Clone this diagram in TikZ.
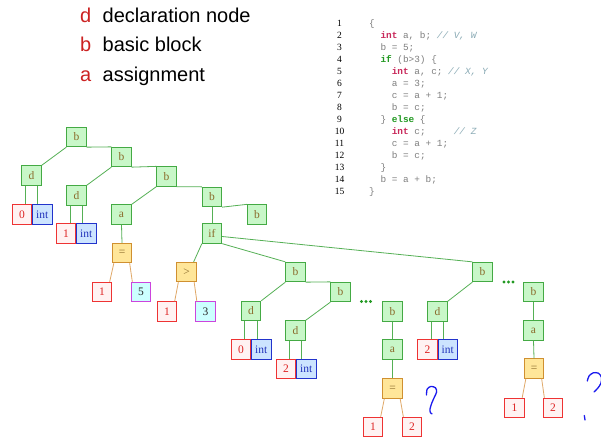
\documentclass[tikz,border=0pt]{standalone}
\usepackage{fontspec}
\setmainfont{Liberation Serif}
\setmonofont{Liberation Mono}
\newfontfamily\legendfont{Liberation Sans}
\usetikzlibrary{calc}

\definecolor{bfill}{HTML}{C8F7C8}
\definecolor{bdraw}{HTML}{44AA44}
\definecolor{btext}{HTML}{8A6A2A}
\definecolor{numfill}{HTML}{FFF2F2}
\definecolor{numdraw}{HTML}{EE3333}
\definecolor{numtext}{HTML}{DD2222}
\definecolor{intfill}{HTML}{CCE4FF}
\definecolor{intdraw}{HTML}{2233CC}
\definecolor{inttext}{HTML}{2233BB}
\definecolor{opfill}{HTML}{FFE699}
\definecolor{opdraw}{HTML}{D09030}
\definecolor{oline}{HTML}{E0A868}
\definecolor{cstfill}{HTML}{CCFFFF}
\definecolor{cstdraw}{HTML}{CC44DD}
\definecolor{gline}{HTML}{55B055}
\definecolor{legred}{HTML}{CC2222}
\definecolor{kwred}{HTML}{C8285A}
\definecolor{kwgreen}{HTML}{229922}
\definecolor{cmtcol}{HTML}{8AAAB5}
\definecolor{codegray}{HTML}{808080}
\definecolor{qblue}{HTML}{1A1AEE}

\newcommand{\kw}[1]{\textbf{\textcolor{kwred}{#1}}}
\newcommand{\kwg}[1]{\textbf{\textcolor{kwgreen}{#1}}}
\newcommand{\cm}[1]{\textit{\textcolor{cmtcol}{#1}}}

\begin{document}
\begin{tikzpicture}[x=1pt,y=-1pt,
  box/.style={rectangle, draw, line width=0.8pt, minimum width=19.5pt, minimum height=19.5pt, inner sep=0pt, font=\fontsize{11.5}{12}\selectfont},
  bnode/.style={box, draw=bdraw, fill=bfill, text=btext},
  numnode/.style={box, draw=numdraw, fill=numfill, text=numtext},
  intnode/.style={box, draw=intdraw, fill=intfill, text=inttext},
  opnode/.style={box, draw=opdraw, fill=opfill, text=btext},
  cstnode/.style={box, draw=cstdraw, fill=cstfill, text=black!85},
  gedge/.style={draw=gline, line width=0.8pt},
  oedge/.style={draw=oline, line width=0.8pt},
  qmark/.style={draw=qblue, line width=1.3pt, line cap=round, line join=round}]
\fill[white] (0,0) rectangle (601,440);
\useasboundingbox (0,0) rectangle (601,440);

% legend
\foreach \k/\desc/\y in {d/declaration node/22, b/basic block/51.5, a/assignment/81}{
  \node[anchor=base west, inner sep=0pt, font=\legendfont\fontsize{20}{22}\selectfont, text=legred] (key\k) at (80,\y) {\k};
  \node[anchor=base west, inner sep=0pt, font=\legendfont\fontsize{20}{22}\selectfont] (desc\k) at (102.5,\y) {\desc};
}

% source code
\foreach \n/\ind/\txt in {1/0/{\{}, 2/2/{\kw{int} a, b; \cm{// V, W}}, 3/2/{b = 5;}, 4/2/{\kwg{if} (b>3) \{},
  5/4/{\kw{int} a, c; \cm{// X, Y}}, 6/4/{a = 3;}, 7/4/{c = a + 1;}, 8/4/{b = c;},
  9/2/{\} \kwg{else} \{}, 10/4/{\kw{int} c;~~~~~\cm{// Z}}, 11/4/{c = a + 1;}, 12/4/{b = c;},
  13/2/{\}}, 14/2/{b = a + b;}, 15/0/{\}}}{
  \node[anchor=base, inner sep=0pt, font=\fontsize{9.5}{10}\selectfont] (ln\n) at (339.5,26.5+12.03*\n-12.03) {\n};
  \node[anchor=base west, inner sep=0pt, text=codegray, font=\ttfamily\fontsize{9.4}{10}\selectfont] (code\n) at (369+5.65*\ind,26.5+12.03*\n-12.03) {\txt};
}

% tree
\draw (76.5,137) node[bnode] (b1) {b};
\draw (121.5,157) node[bnode] (b2) {b};
\draw (166.5,176.5) node[bnode] (b3) {b};
\draw (212,197) node[bnode] (b4) {b};
\draw (257,214.5) node[bnode] (b5) {b};
\draw (31.5,175.5) node[bnode] (d1) {d};
\draw (76.5,195.5) node[bnode] (d2) {d};
\draw (121.5,214.5) node[bnode] (a1) {a};
\draw (212,233.5) node[bnode] (if) {if};
\draw (295.5,272) node[bnode] (bx) {b};
\draw (340.5,292) node[bnode] (by) {b};
\draw (251,311) node[bnode] (d3) {d};
\draw (295.5,330.5) node[bnode] (d4) {d};
\draw (392.5,311.5) node[bnode] (bz) {b};
\draw (392.5,349.5) node[bnode] (a2) {a};
\draw (482.5,272) node[bnode] (bw) {b};
\draw (437.5,311.5) node[bnode] (d5) {d};
\draw (533.5,292) node[bnode] (bv) {b};
\draw (533.5,330.5) node[bnode] (a3) {a};

\draw (122,253) node[opnode] (eq1) {=};
\draw (186.5,272) node[opnode] (gt) {>};
\draw (392.5,388.5) node[opnode] (eq2) {=};
\draw (534,368.5) node[opnode] (eq3) {=};

\draw (22,214.5) node[numnode] (n1) {0};
\draw (66,233.5) node[numnode] (n2) {1};
\draw (102,292) node[numnode] (n3) {1};
\draw (167,311.5) node[numnode] (n4) {1};
\draw (241,349.5) node[numnode] (n5) {0};
\draw (286,369) node[numnode] (n6) {2};
\draw (373,427) node[numnode] (n7) {1};
\draw (412,427) node[numnode] (n8) {2};
\draw (427.5,349.5) node[numnode] (n9) {2};
\draw (514.5,408) node[numnode] (n10) {1};
\draw (553,408) node[numnode] (n11) {2};

\draw (141,292) node[cstnode] (c1) {5};
\draw (205.5,311.5) node[cstnode] (c2) {3};

\foreach \n in {n1,n2,n5,n6,n9}
  \node[intnode, anchor=west] (int\n) at (\n.east) {int};

% edges
\draw[gedge] (b1.south west) -- (d1.north east);
\draw[gedge] (b1.south east) -- (b2.north west);
\draw[gedge] (b2.south west) -- (d2.north east);
\draw[gedge] (b2.south east) -- (b3.north west);
\draw[gedge] (b3.south west) -- (a1.north east);
\draw[gedge] (b3.south east) -- (b4.north west);
\draw[gedge] (b4.south east) -- (b5.north west);
\draw[gedge] (b4.south) -- (if.north);
\draw[gedge] (a1.south) -- (eq1.north);
\draw[gedge] (if.south west) -- ([xshift=-3pt]gt.north east);
\draw[gedge] (if.south east) -- (bx.north west);
\draw[gedge] ([yshift=-3pt]if.east) -- (bw.north west);
\draw[gedge] (bx.south west) -- (d3.north east);
\draw[gedge] (bx.south east) -- (by.north west);
\draw[gedge] (by.south west) -- (d4.north east);
\draw[gedge] (bw.south west) -- (d5.north east);
\draw[gedge] (bz.south) -- (a2.north);
\draw[gedge] (a2.south) -- (eq2.north);
\draw[gedge] (bv.south) -- (a3.north);
\draw[gedge] (a3.south) -- (eq3.north);

\foreach \d/\n in {d1/n1, d2/n2, d3/n5, d4/n6, d5/n9}{
  \draw[gedge] ([xshift=-6.5pt]\d.south) -- ([xshift=-6.5pt]\d.south |- \n.north);
  \draw[gedge] ([xshift=6pt]\d.south) -- ([xshift=6pt]\d.south |- int\n.north);
}

\foreach \op/\l/\r in {eq1/n3/c1, gt/n4/c2, eq2/n7/n8, eq3/n10/n11}{
  \draw[oedge] ([xshift=2pt]\op.south west) -- ([xshift=-2.5pt]\l.north east);
  \draw[oedge] ([xshift=-2.5pt]\op.south east) -- ([xshift=1.5pt]\r.north west);
}

% more children
\foreach \cx/\cy in {366/301.5, 508.5/282}
  \foreach \i in {-4.5,0,4.5}
    \fill[kwgreen] (\cx+\i,\cy) circle (1.7pt);

% handwritten marks
\draw[qmark] plot[smooth] coordinates {(426.5,395) (427.2,389) (431,386.4) (435.5,387.8) (436.6,392) (434.2,397.5) (431.8,403) (430,409) (430.4,412.6) (432,413.8)};
\draw[qmark] plot[smooth] coordinates {(587.3,381) (589,376) (593.3,372.8) (598.5,373.2) (601.5,377.5) (600.8,383.5) (597.5,388.5) (594,392)};
\draw[qmark] (584.3,415.5) -- (585,420);
\end{tikzpicture}
\end{document}
